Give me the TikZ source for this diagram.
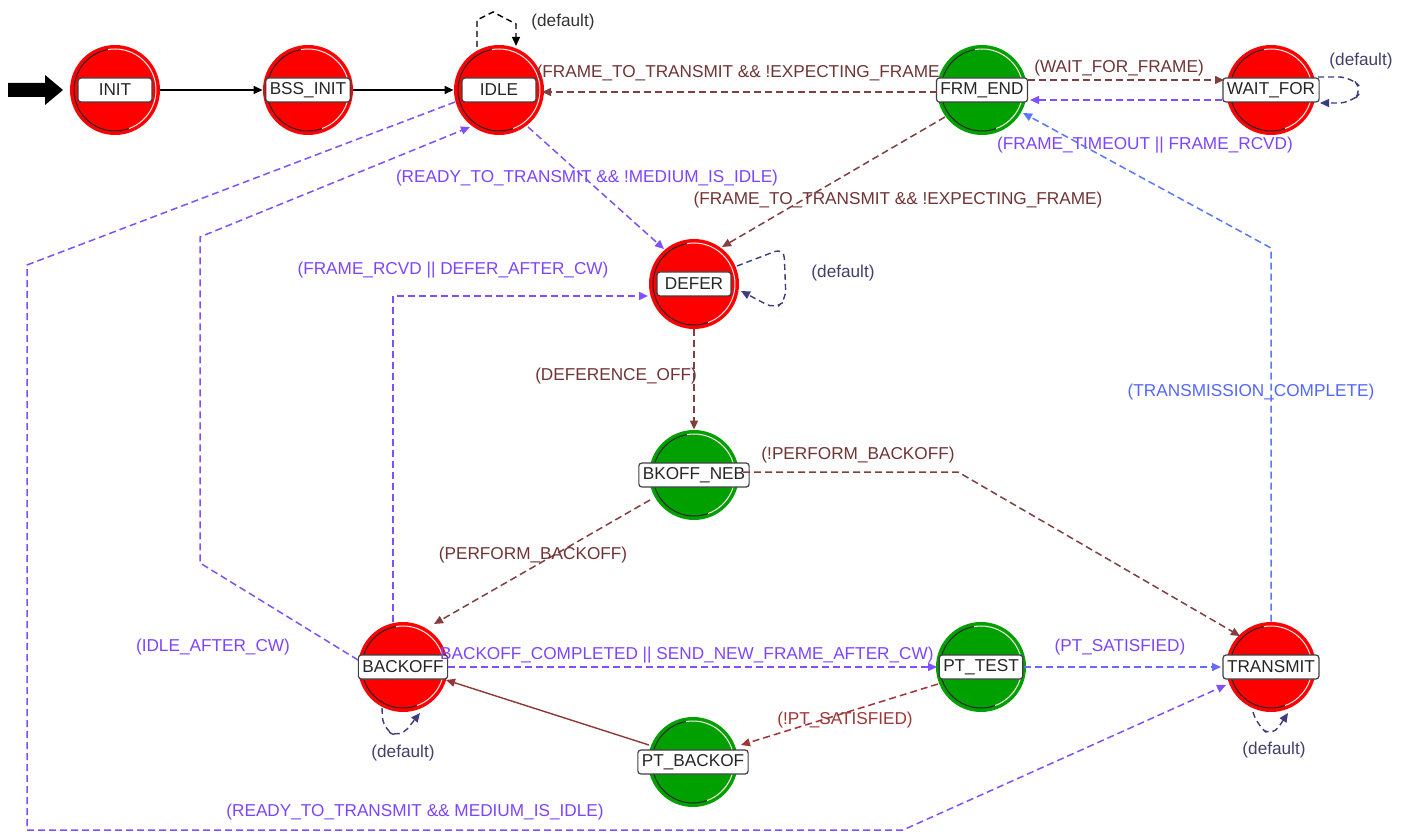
\documentclass[tikz,border=0pt]{standalone}
\usepackage{fontspec}
\setmainfont{Liberation Sans}
\usetikzlibrary{arrows.meta,calc}
\definecolor{stred}{HTML}{FF0000}
\definecolor{stgreen}{HTML}{00A000}
\definecolor{brn}{HTML}{804040}
\definecolor{brnT}{HTML}{703434}
\definecolor{rbrn}{HTML}{A03535}
\definecolor{vio}{HTML}{8050FF}
\definecolor{vioT}{HTML}{7D45FF}
\definecolor{blu}{HTML}{5A78FF}
\definecolor{bluT}{HTML}{5566FF}
\definecolor{nav}{HTML}{3C3C80}
\definecolor{navT}{HTML}{40406A}
\newcommand\lbf{\fontsize{8.6}{10}\selectfont}
\tikzset{
  stc/.style={circle, minimum size=45pt, inner sep=0pt},
  lbox/.style={draw=black!75, fill=white, rounded corners=1.5pt, minimum width=37pt,
    minimum height=12pt, inner xsep=2pt, inner ysep=1pt, line width=0.6pt,
    text=black!85, font=\lbf},
  tip/.style={-{Triangle[length=4.5pt,width=4pt]}},
  tr/.style={tip, line width=0.75pt, dash pattern=on 3.5pt off 2pt},
  loopst/.style={tip, nav, line width=0.7pt, dash pattern=on 3pt off 2pt},
  solidtr/.style={tip, line width=0.7pt},
  lab/.style={font=\lbf, inner sep=0pt},
}
\newcommand\mkstate[5]{%
  \node[stc, fill=#4] (#1) at (#2,#3) {};
  \draw[black!85, line width=0.5pt] ($(#1)+(100:20.5pt)$) arc[start angle=100, end angle=290, radius=20.5pt];
  \draw[white!70!pink, line width=0.5pt] ($(#1)+(-70:20.5pt)$) arc[start angle=-70, end angle=100, radius=20.5pt];
  \node[lbox] (#1L) at (#1) {#5};
}
\begin{document}
\begin{tikzpicture}[x=0.5pt,y=-0.5pt]
\useasboundingbox (0,0) rectangle (1403,834);
\fill[white] (0,0) rectangle (1403,834);

% states
\mkstate{init}{115}{90}{stred}{INIT}
\mkstate{bss}{308}{90}{stred}{BSS\_INIT}
\mkstate{idle}{499}{90}{stred}{IDLE}
\mkstate{frm}{982}{90}{stgreen}{FRM\_END}
\mkstate{wait}{1271}{90}{stred}{WAIT\_FOR}
\mkstate{defer}{694}{284}{stred}{DEFER}
\mkstate{neb}{694}{475}{stgreen}{BKOFF\_NEB}
\mkstate{backoff}{403}{667}{stred}{BACKOFF}
\mkstate{pttest}{981}{667}{stgreen}{PT\_TEST}
\mkstate{ptback}{693}{762}{stgreen}{PT\_BACKOF}
\mkstate{transmit}{1271}{667}{stred}{TRANSMIT}

% start marker
\fill[black] (8,83) -- (45,83) -- (45,75) -- (63,90) -- (45,105) -- (45,97) -- (8,97) -- cycle;

% INIT -> BSS_INIT -> IDLE
\draw[solidtr, black] (init.east) -- (bss.west);
\draw[solidtr, black] (bss.east) -- (idle.west);

% IDLE default loop
\draw[tip, black, line width=0.7pt, dash pattern=on 3pt off 2pt]
  ($(idle)+(-22,-43)$) -- ($(idle)+(-22,-70)$) -- ($(idle)+(-6,-78)$) -- ($(idle)+(17,-66)$) -- ($(idle)+(17,-44)$);
\node[lab, text=black!80] (ldefidle) at (563,22) {(default)};

% FRM_END -> IDLE
\draw[tr, brn] ($(frm)+(-45,2)$) -- ($(idle)+(43,2)$);
\node[lab, text=brnT, anchor=east] (lfti) at (940,73) {(FRAME\_TO\_TRANSMIT \&\& !EXPECTING\_FRAME};

% FRM_END -> WAIT_FOR
\draw[tr, brn] ($(frm)+(46,-10)$) -- ($(wait)+(-47,-10)$);
\node[lab, text=brnT] (lwff) at (1119,68) {(WAIT\_FOR\_FRAME)};

% WAIT_FOR -> FRM_END
\draw[tr, vio] ($(wait)+(-49,10)$) -- ($(frm)+(48,10)$);
\node[lab, text=vioT] (lftr) at (1145,145) {(FRAME\_TIMEOUT || FRAME\_RCVD)};

% WAIT_FOR default loop
\draw[loopst, rounded corners=6pt] ($(wait)+(47,-13)$) -- ($(wait)+(80,-13)$) -- ($(wait)+(92,0)$) -- ($(wait)+(80,13)$) -- ($(wait)+(49,13)$);
\node[lab, text=navT] (ldefwait) at (1361,61) {(default)};

% FRM_END -> DEFER
\draw[tr, brn] ($(frm)+(-37,27)$) -- ($(defer)+(28,-37)$);
\node[lab, text=brnT] (lftd) at (898,200) {(FRAME\_TO\_TRANSMIT \&\& !EXPECTING\_FRAME)};

% IDLE -> DEFER
\draw[tr, vio] ($(idle)+(29,37)$) -- ($(defer)+(-30,-35)$);
\node[lab, text=vioT] (lrtd) at (587,178) {(READY\_TO\_TRANSMIT \&\& !MEDIUM\_IS\_IDLE)};

% DEFER default loop
\draw[loopst, rounded corners=5pt] ($(defer)+(43,-18)$) -- ($(defer)+(90,-36)$) -- ($(defer)+(92,16)$) -- ($(defer)+(81,25)$) -- ($(defer)+(47,7)$);
\node[lab, text=navT] (ldefdefer) at (843,273) {(default)};

% BACKOFF -> DEFER
\draw[tr, vio] ($(backoff)+(-10,-45)$) |- ($(defer)+(-46,12)$);
\node[lab, text=vioT] (lfrd) at (453,270) {(FRAME\_RCVD || DEFER\_AFTER\_CW)};

% DEFER -> BKOFF_NEB
\draw[tr, brn] (defer.south) -- (neb.north);
\node[lab, text=brnT] (ldo) at (616,376) {(DEFERENCE\_OFF)};

% BKOFF_NEB -> BACKOFF
\draw[tr, brn] ($(neb)+(-44,25)$) -- ($(backoff)+(31,-43)$);
\node[lab, text=brnT] (lpb) at (533,555) {(PERFORM\_BACKOFF)};

% BKOFF_NEB -> TRANSMIT
\coordinate (nbend) at (958,472);
\draw[tr, brn] ($(neb)+(49,-3)$) -- (nbend) -- ($(transmit)+(-31,-31)$);
\node[lab, text=brnT] (lnpb) at (858,455) {(!PERFORM\_BACKOFF)};

% BACKOFF -> IDLE
\coordinate (ia1) at (200,563);
\coordinate (ia2) at (200,237);
\draw[tr, vio] ($(backoff)+(-45,-7)$) -- (ia1) -- (ia2) -- ($(idle)+(-29,37)$);
\node[lab, text=vioT] (liac) at (213,647) {(IDLE\_AFTER\_CW)};

% IDLE -> TRANSMIT
\coordinate (it1) at (27,265);
\coordinate (it2) at (27,830);
\coordinate (it3) at (903,830);
\draw[tr, vio] ($(idle)+(-44,12)$) -- (it1) -- (it2) -- (it3) -- ($(transmit)+(-45,18)$);
\node[lab, text=vioT] (lrtm) at (415,812) {(READY\_TO\_TRANSMIT \&\& MEDIUM\_IS\_IDLE)};

% BACKOFF -> PT_TEST
\draw[tr, vio] ($(backoff)+(45,0)$) -- ($(pttest)+(-44,0)$);
\node[lab, text=vioT, anchor=east] (lbc) at (934,655) {BACKOFF\_COMPLETED || SEND\_NEW\_FRAME\_AFTER\_CW)};

% PT_TEST -> TRANSMIT
\draw[tr, blu!60!vio] ($(pttest)+(43,0)$) -- ($(transmit)+(-50,0)$);
\node[lab, text=vioT] (lpts) at (1120,647) {(PT\_SATISFIED)};

% PT_TEST -> PT_BACKOFF
\draw[tr, rbrn] ($(pttest)+(-43,17)$) -- ($(ptback)+(48,-17)$);
\node[lab, text=rbrn] (lnpts) at (845,720) {(!PT\_SATISFIED)};

% PT_BACKOFF -> BACKOFF
\draw[solidtr, brn!85!red] ($(ptback)+(-44,-17)$) -- ($(backoff)+(43,13)$);

% BACKOFF default loop
\draw[loopst, rounded corners=6pt] ($(backoff)+(-21,41)$) -- ($(backoff)+(-20,62)$) -- ($(backoff)+(-3,71)$) -- ($(backoff)+(17,46)$);
\node[lab, text=navT] (ldefbo) at (403,753) {(default)};

% TRANSMIT -> FRM_END
\coordinate (tc1) at (1271,248);
\draw[tr, blu] (transmit.north) -- (tc1) -- ($(frm)+(41,23)$);
\node[lab, text=bluT] (ltc) at (1251,392) {(TRANSMISSION\_COMPLETE)};

% TRANSMIT default loop
\draw[loopst, rounded corners=6pt] ($(transmit)+(-18,45)$) -- ($(transmit)+(-14,58)$) -- ($(transmit)+(1,70)$) -- ($(transmit)+(17,46)$);
\node[lab, text=navT] (ldeftr) at (1274,750) {(default)};
\end{tikzpicture}
\end{document}
